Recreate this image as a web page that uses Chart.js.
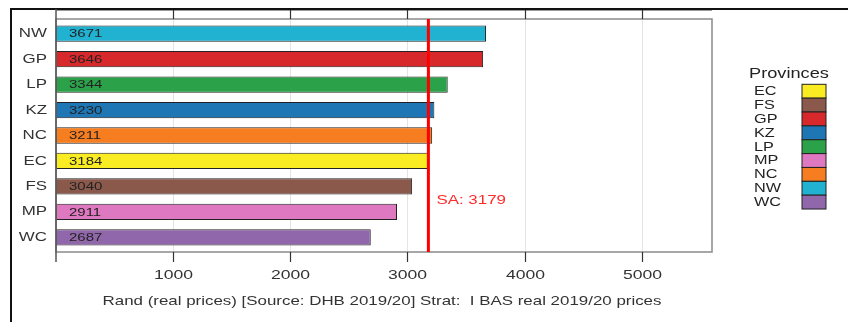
<!DOCTYPE html>
<html>
<head>
<meta charset="utf-8">
<script src="https://cdn.jsdelivr.net/npm/chart.js@4"></script>
<style>
  body { margin: 0; background: #fff; }
</style>
</head>
<body>
<canvas id="chart" width="848" height="322"></canvas>
<script>
const provinces = ['NW', 'GP', 'LP', 'KZ', 'NC', 'EC', 'FS', 'MP', 'WC'];
const costs = [3671, 3646, 3344, 3230, 3211, 3184, 3040, 2911, 2687];
const barColors = ['#20b2d0', '#d7282c', '#2ba24a', '#1f76b4', '#f67d20', '#f9ec22', '#8b594c', '#de78c1', '#9167ab'];
const saAverage = 3179;
const xTickValues = [1000, 2000, 3000, 4000, 5000];
const legendProvinces = ['EC', 'FS', 'GP', 'KZ', 'LP', 'MP', 'NC', 'NW', 'WC'];
const axisTitle = 'Rand (real prices) [Source: DHB 2019/20] Strat:  I BAS real 2019/20 prices';

const FONT = '"Liberation Sans", Arial, sans-serif';
const SX = 1.3; // text in the picture is stretched sideways

// draw text, stretched horizontally
function txt(ctx, s, x, y, align, size, color) {
    ctx.save();
    ctx.font = size + 'px ' + FONT;
    ctx.fillStyle = color;
    ctx.textBaseline = 'middle';
    ctx.textAlign = 'left';
    const w = ctx.measureText(s).width * SX;
    let left = x;
    if (align === 'right') left = x - w;
    if (align === 'center') left = x - w / 2;
    ctx.translate(left, y);
    ctx.scale(SX, 1);
    ctx.fillText(s, 0, 0);
    ctx.restore();
}

function line(ctx, x1, y1, x2, y2, color, width) {
    ctx.save();
    ctx.strokeStyle = color;
    ctx.lineWidth = width;
    ctx.beginPath();
    ctx.moveTo(x1, y1);
    ctx.lineTo(x2, y2);
    ctx.stroke();
    ctx.restore();
}

const decorations = {
    id: 'decorations',
    beforeDatasetsDraw(chart) {
        const ctx = chart.ctx;
        const a = chart.chartArea;
        const x = chart.scales.x;
        // grid
        xTickValues.forEach(v => {
            const px = Math.round(x.getPixelForValue(v)) + 0.5;
            line(ctx, px, a.top - 2, px, a.bottom + 2, '#e4e4e4', 1);
        });
    },
    afterDatasetsDraw(chart) {
        const ctx = chart.ctx;
        const a = chart.chartArea;
        const x = chart.scales.x;
        const y = chart.scales.y;
        const boxTop = a.top - 2, boxBottom = a.bottom + 2;

        // outer frame
        line(ctx, 11, 9, 848, 9, '#111', 2);
        line(ctx, 11, 8, 11, 322, '#111', 2);

        // plot box
        ctx.save();
        ctx.strokeStyle = '#8a8a8a';
        ctx.lineWidth = 1.5;
        ctx.strokeRect(a.left, boxTop, a.right - a.left, boxBottom - boxTop);
        ctx.restore();

        // top axis line and left axis line
        line(ctx, a.left, 10.5, a.right, 10.5, '#9a9a9a', 1);
        line(ctx, a.left, 9, a.left, boxBottom + 10, '#555', 1.5);

        // ticks top and bottom, tick labels
        xTickValues.forEach(v => {
            const px = Math.round(x.getPixelForValue(v)) + 0.5;
            line(ctx, px, 10, px, boxTop, '#333', 1.2);
            line(ctx, px, boxBottom, px, boxBottom + 10, '#333', 1.2);
            txt(ctx, String(v), px, 275, 'center', 13.5, '#333');
        });

        // axis title
        txt(ctx, axisTitle, 382, 301, 'center', 13, '#333');

        // category labels and bar values
        provinces.forEach((p, i) => {
            const py = y.getPixelForValue(i);
            txt(ctx, p, 47, py, 'right', 13, '#333');
            txt(ctx, String(costs[i]), 69, py + 0.5, 'left', 11.5, '#222');
        });

        // SA average line
        const sx = x.getPixelForValue(saAverage);
        line(ctx, sx, boxTop, sx, boxBottom, '#ff0000', 3);
        txt(ctx, 'SA: ' + saAverage, sx + 8, y.getPixelForValue(6.5) + 1.5, 'left', 13, '#ff2a2a');

        // legend
        txt(ctx, 'Provinces', 749, 74, 'left', 14, '#222');
        const boxH = 13.86;
        legendProvinces.forEach((p, i) => {
            const top = 84.3 + i * boxH;
            const col = barColors[provinces.indexOf(p)];
            ctx.save();
            ctx.fillStyle = col;
            ctx.fillRect(802, top, 24, boxH);
            ctx.strokeStyle = '#222';
            ctx.lineWidth = 1;
            ctx.strokeRect(802, top, 24, boxH);
            ctx.restore();
            txt(ctx, p, 754, top + boxH / 2 + 0.5, 'left', 12.5, '#222');
        });
    }
};

new Chart(document.getElementById('chart'), {
    type: 'bar',
    data: {
        labels: provinces,
        datasets: [{
            data: costs,
            backgroundColor: barColors,
            borderColor: '#222',
            borderWidth: 1,
            borderSkipped: false,
            barPercentage: 0.64,
            categoryPercentage: 1
        }]
    },
    options: {
        indexAxis: 'y',
        responsive: false,
        animation: false,
        devicePixelRatio: 1,
        layout: { padding: { left: 56, right: 136, top: 21, bottom: 72 } },
        plugins: { legend: { display: false }, tooltip: { enabled: false } },
        scales: {
            x: { display: false, min: 0, max: 5600 },
            y: { display: false }
        }
    },
    plugins: [decorations]
});
</script>
</body>
</html>
